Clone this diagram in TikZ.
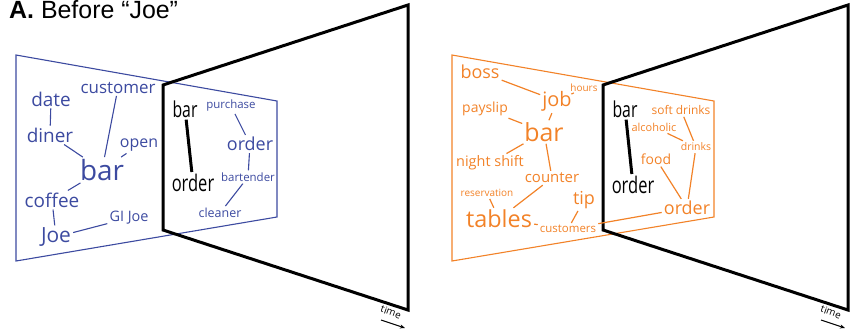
\documentclass[tikz,border=0pt]{standalone}
\usepackage{fontspec}
\setmainfont{Liberation Sans}
\newfontfamily\wordfont{Open Sans}
\newfontfamily\narrowfont[FakeStretch=0.72]{Open Sans}
\usetikzlibrary{arrows.meta}
\definecolor{joeblue}{RGB}{60,74,160}
\definecolor{joeorange}{RGB}{242,130,40}
\newcommand\fsz[1]{\fontsize{#1}{#1}\selectfont}

\begin{document}
\begin{tikzpicture}[
        x=1bp, y=-1bp,
        bw/.style={text=joeblue, inner sep=2pt, font=\wordfont\fsz{#1}},
        ow/.style={text=joeorange, inner sep=2pt, font=\wordfont\fsz{#1}},
        kw/.style={text=black, inner sep=2pt, font=\narrowfont\fsz{#1}},
        blink/.style={draw=joeblue, line width=1.1bp},
        olink/.style={draw=joeorange, line width=1.2bp},
        klink/.style={draw=black, line width=3bp},
        frame/.style={draw=black, line width=3bp, line join=miter},
        sheet/.style={line width=1.1bp, line join=miter},
        timelbl/.style={font=\wordfont\fsz{10}, rotate=-20, inner sep=0pt},
        timearr/.style={-{Stealth[length=5bp,width=4bp]}, line width=1bp}
    ]
    \useasboundingbox (0,0) rectangle (856,329);

    % Title
    \node[anchor=base west, font=\fsz{25}, inner sep=0pt] (title) at (9,18) {\textbf{A.} Before “Joe”};

    % Panel left: context sheet and time frame
    \draw[sheet, draw=joeblue] (16,55) -- (277,101) -- (277,217) -- (16,261) -- cycle;
    \draw[frame] (163,85) -- (408,5) -- (408,310) -- (163,230) -- cycle;

    % Words before the frame
    \node[bw=17] (cust)   at (118,88)  {customer};
    \node[bw=19] (date)   at (51,99)   {date};
    \node[bw=19] (diner)  at (50,135)  {diner};
    \node[bw=28] (barL)   at (102,170) {bar};
    \node[bw=16] (open)   at (139,145) {open};
    \node[bw=19] (coffee) at (52,200)  {coffee};
    \node[bw=21] (joe)    at (56,237)  {Joe};
    \node[bw=14.5] (gijoe) at (129,218) {GI Joe};

    % Words inside the frame
    \node[kw=22] (barA)   at (185,109) {bar};
    \node[kw=23] (ordA)   at (193,183) {order};
    \node[bw=11.5] (purch) at (231,106) {purchase};
    \node[bw=18] (ordB)   at (250,144) {order};
    \node[bw=11.5] (bart) at (248,177) {bartender};
    \node[bw=12.5] (clean) at (220,213) {cleaner};

    % Links, left panel
    \draw[blink] (date) -- (diner);
    \draw[blink] (cust) -- (barL);
    \draw[blink] (diner) -- (barL);
    \draw[blink] (open) -- (barL);
    \draw[blink] (barL) -- (coffee);
    \draw[blink] (coffee) -- (joe);
    \draw[blink] (joe) -- (gijoe);
    \draw[blink] (purch) -- (ordB);
    \draw[blink] (ordB) -- (bart);
    \draw[blink] (bart) -- (clean);
    \draw[klink] (barA) -- (ordA);

    % Time arrow, left panel
    \node[timelbl] (timeA) at (391,312) {time};
    \coordinate (tA1) at (381,320);
    \coordinate (tA2) at (405,328);
    \draw[timearr] (tA1) -- (tA2);

    % Panel right: context sheet and time frame
    \draw[sheet, draw=joeorange] (452,55) -- (714,101) -- (714,217) -- (452,261) -- cycle;
    \draw[frame] (603,85) -- (848,5) -- (848,310) -- (603,230) -- cycle;

    % Words before the frame
    \node[ow=18] (boss)   at (480,72)  {boss};
    \node[ow=10] (hours)  at (584,88)  {hours};
    \node[ow=20] (job)    at (557,101) {job};
    \node[ow=14] (payslip) at (485,109) {payslip};
    \node[ow=25] (barR)   at (544,132) {bar};
    \node[ow=14.5] (night) at (490,163) {night shift};
    \node[ow=15] (counter) at (552,178) {counter};
    \node[ow=10] (reserv) at (487,193) {reservation};
    \node[ow=23.5] (tables) at (499,219) {tables};
    \node[ow=18] (tip)    at (584,200) {tip};
    \node[ow=11.5] (custs) at (568,229) {customers};

    % Words inside the frame
    \node[kw=22] (barC)   at (625,109) {bar};
    \node[kw=23] (ordC)   at (633,185) {order};
    \node[ow=12] (soft)   at (681,110) {soft drinks};
    \node[ow=11] (alco)   at (654,127) {alcoholic};
    \node[ow=10.5] (drinks) at (696,147) {drinks};
    \node[ow=14] (food)   at (656,159) {food};
    \node[ow=18] (ordD)   at (687,208) {order};

    % Links, right panel
    \draw[olink] (boss) -- (job);
    \draw[olink] (hours) -- (job);
    \draw[olink] (job) -- (barR);
    \draw[olink] (payslip) -- (barR);
    \draw[olink] (barR) -- (night);
    \draw[olink] (barR) -- (counter);
    \draw[olink] (counter) -- (tables);
    \draw[olink] (reserv) -- (tables);
    \draw[olink] (tables) -- (custs);
    \draw[olink] (custs) -- (tip);
    \draw[olink] (custs) -- (ordD);
    \draw[olink] (soft) -- (drinks);
    \draw[olink] (alco) -- (drinks);
    \draw[olink] (drinks) -- (ordD);
    \draw[olink] (food) -- (ordD);
    \draw[klink] (barC) -- (ordC);

    % Time arrow, right panel
    \node[timelbl] (timeB) at (831,312) {time};
    \coordinate (tB1) at (821,320);
    \coordinate (tB2) at (845,328);
    \draw[timearr] (tB1) -- (tB2);

\end{tikzpicture}
\end{document}
